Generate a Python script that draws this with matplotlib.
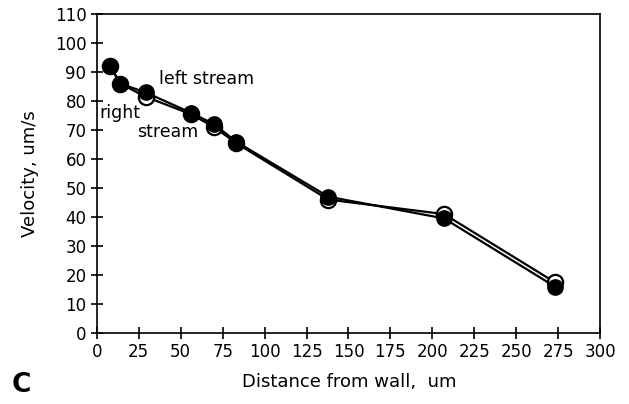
import numpy as np
import matplotlib
matplotlib.use('Agg')
import matplotlib.pyplot as plt

# velocity profiles across the channel
dist = [8, 14, 29, 56, 70, 83, 138, 207, 273]
left_stream = [92, 86, 83, 76, 72, 66, 47, 39.5, 16]
right_stream = [92, 86, 81.5, 75.5, 71, 65.5, 46, 41, 17.5]

xticks = np.arange(0, 301, 25)
yticks = np.arange(0, 111, 10)

plt.rcParams['font.family'] = 'DejaVu Sans'

fig = plt.figure(figsize=(6.29, 4.04), dpi=100)
ax = fig.add_axes([0.154, 0.176, 0.8, 0.789])

ax.plot(dist, right_stream, '-o', color='black', lw=1.6, ms=11,
        mfc='white', mec='black', mew=1.6, zorder=2)
ax.plot(dist, left_stream, '-o', color='black', lw=1.6, ms=11,
        mfc='black', mec='black', zorder=3)

ax.text(37, 87.5, 'left stream', fontsize=12.5, va='center', ha='left')
ax.text(1.5, 76, 'right', fontsize=12.5, va='center', ha='left')
ax.text(24, 69.5, 'stream', fontsize=12.5, va='center', ha='left')

ax.set_xlim(0, 300)
ax.set_ylim(0, 110)
ax.set_xticks(xticks)
ax.set_yticks(yticks)
ax.tick_params(direction='inout', length=8, width=1.2, labelsize=12)
for s in ax.spines.values():
    s.set_linewidth(1.2)

ax.set_ylabel('Velocity, um/s', fontsize=13)
ax.yaxis.set_label_coords(-0.115, 0.5)
fig.text(0.555, 0.055, 'Distance from wall,  um', fontsize=13, ha='center', va='center')
fig.text(0.018, 0.048, 'C', fontsize=19, fontweight='bold', ha='left', va='center')

fig.savefig('out.png', dpi=100)
